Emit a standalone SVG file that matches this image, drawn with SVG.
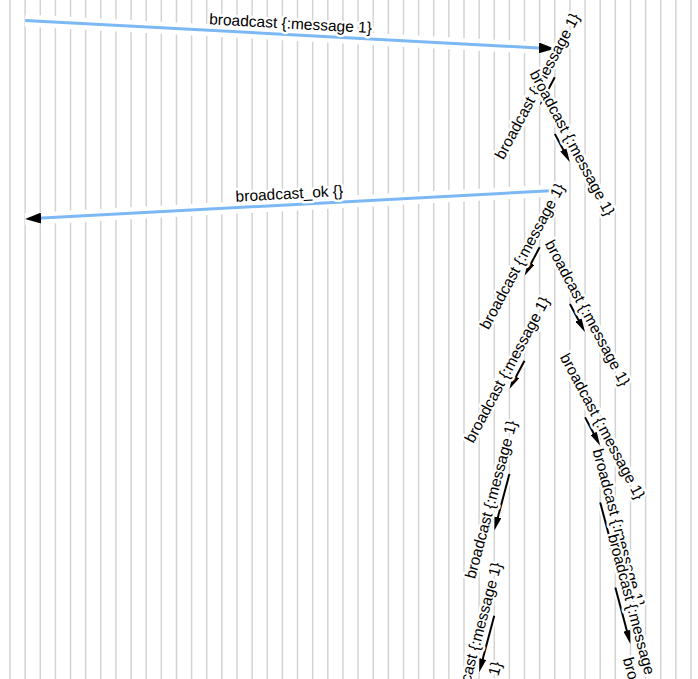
<svg xmlns="http://www.w3.org/2000/svg" width="698" height="679" viewBox="0 0 698 679">
<defs>
<style>
.lane{stroke:#d3d3d3;stroke-width:1.5}
.hb{stroke:#fff;stroke-width:12}
.hs{stroke:#fff;stroke-width:6}
.req{stroke:#7cb9f4;stroke-width:3;marker-end:url(#hd)}
.msg{stroke:#000;stroke-width:2;marker-end:url(#hsm)}
.lbl{font-family:"Liberation Sans",Arial,sans-serif;font-size:15.5px;fill:#000;stroke:#fff;stroke-width:5;stroke-linejoin:round;paint-order:stroke;text-anchor:middle}
</style>
<marker id="hd" viewBox="0 0 16 11" refX="8" refY="5.5" markerWidth="16" markerHeight="11" orient="auto" markerUnits="userSpaceOnUse"><path d="M0,0 L16,5.5 L0,11 z" fill="#000"/></marker>
<marker id="hsm" viewBox="0 0 14 7" refX="7" refY="3.5" markerWidth="14" markerHeight="7" orient="auto" markerUnits="userSpaceOnUse"><path d="M0,0 L14,3.5 L0,7 z" fill="#000"/></marker>
</defs>
<rect width="698" height="679" fill="#fff"/>
<g id="lanes">
<g id="p0"><line class="lane" x1="10" y1="0" x2="10" y2="679"/></g>
<g id="p1"><line class="lane" x1="25.13" y1="0" x2="25.13" y2="679"/></g>
<g id="p2"><line class="lane" x1="40.27" y1="0" x2="40.27" y2="679"/></g>
<g id="p3"><line class="lane" x1="55.4" y1="0" x2="55.4" y2="679"/></g>
<g id="p4"><line class="lane" x1="70.53" y1="0" x2="70.53" y2="679"/></g>
<g id="p5"><line class="lane" x1="85.67" y1="0" x2="85.67" y2="679"/></g>
<g id="p6"><line class="lane" x1="100.8" y1="0" x2="100.8" y2="679"/></g>
<g id="p7"><line class="lane" x1="115.93" y1="0" x2="115.93" y2="679"/></g>
<g id="p8"><line class="lane" x1="131.07" y1="0" x2="131.07" y2="679"/></g>
<g id="p9"><line class="lane" x1="146.2" y1="0" x2="146.2" y2="679"/></g>
<g id="p10"><line class="lane" x1="161.33" y1="0" x2="161.33" y2="679"/></g>
<g id="p11"><line class="lane" x1="176.47" y1="0" x2="176.47" y2="679"/></g>
<g id="p12"><line class="lane" x1="191.6" y1="0" x2="191.6" y2="679"/></g>
<g id="p13"><line class="lane" x1="206.73" y1="0" x2="206.73" y2="679"/></g>
<g id="p14"><line class="lane" x1="221.87" y1="0" x2="221.87" y2="679"/></g>
<g id="p15"><line class="lane" x1="237" y1="0" x2="237" y2="679"/></g>
<g id="p16"><line class="lane" x1="252.13" y1="0" x2="252.13" y2="679"/></g>
<g id="p17"><line class="lane" x1="267.27" y1="0" x2="267.27" y2="679"/></g>
<g id="p18"><line class="lane" x1="282.4" y1="0" x2="282.4" y2="679"/></g>
<g id="p19"><line class="lane" x1="297.53" y1="0" x2="297.53" y2="679"/></g>
<g id="p20"><line class="lane" x1="312.67" y1="0" x2="312.67" y2="679"/></g>
<g id="p21"><line class="lane" x1="327.8" y1="0" x2="327.8" y2="679"/></g>
<g id="p22"><line class="lane" x1="342.93" y1="0" x2="342.93" y2="679"/></g>
<g id="p23"><line class="lane" x1="358.07" y1="0" x2="358.07" y2="679"/></g>
<g id="p24"><line class="lane" x1="373.2" y1="0" x2="373.2" y2="679"/></g>
<g id="p25"><line class="lane" x1="388.33" y1="0" x2="388.33" y2="679"/></g>
<g id="p26"><line class="lane" x1="403.47" y1="0" x2="403.47" y2="679"/></g>
<g id="p27"><line class="lane" x1="418.6" y1="0" x2="418.6" y2="679"/></g>
<g id="p28"><line class="lane" x1="433.73" y1="0" x2="433.73" y2="679"/></g>
<g id="p29"><line class="lane" x1="448.87" y1="0" x2="448.87" y2="679"/></g>
<g id="p30"><line class="lane" x1="464" y1="0" x2="464" y2="679"/></g>
<g id="p31"><line class="lane" x1="479.13" y1="0" x2="479.13" y2="679"/></g>
<g id="p32"><line class="lane" x1="494.27" y1="0" x2="494.27" y2="679"/></g>
<g id="p33"><line class="lane" x1="509.4" y1="0" x2="509.4" y2="679"/></g>
<g id="p34"><line class="lane" x1="524.53" y1="0" x2="524.53" y2="679"/></g>
<g id="p35"><line class="lane" x1="539.67" y1="0" x2="539.67" y2="679"/></g>
<g id="p36"><line class="lane" x1="554.8" y1="0" x2="554.8" y2="679"/></g>
<g id="p37"><line class="lane" x1="569.93" y1="0" x2="569.93" y2="679"/></g>
<g id="p38"><line class="lane" x1="585.07" y1="0" x2="585.07" y2="679"/></g>
<g id="p39"><line class="lane" x1="600.2" y1="0" x2="600.2" y2="679"/></g>
<g id="p40"><line class="lane" x1="615.33" y1="0" x2="615.33" y2="679"/></g>
<g id="p41"><line class="lane" x1="630.47" y1="0" x2="630.47" y2="679"/></g>
<g id="p42"><line class="lane" x1="645.6" y1="0" x2="645.6" y2="679"/></g>
<g id="p43"><line class="lane" x1="660.73" y1="0" x2="660.73" y2="679"/></g>
<g id="p44"><line class="lane" x1="675.87" y1="0" x2="675.87" y2="679"/></g>
<g id="p45"><line class="lane" x1="691" y1="0" x2="691" y2="679"/></g>
</g>
<g id="connectors">
<g id="mA"><line class="hb" x1="25.13" y1="20.5" x2="554.8" y2="48.85"/><line class="req" x1="25.13" y1="20.5" x2="546.81" y2="48.42"/><text class="lbl" transform="translate(289.97,34.68) rotate(3.064)" y="-6">broadcast {:message 1}</text></g>
<g id="mB"><line class="hs" x1="554.8" y1="77.2" x2="539.67" y2="105.55"/><line class="msg" x1="554.8" y1="77.2" x2="542.97" y2="99.37"/><text class="lbl" transform="translate(547.23,91.38) rotate(-61.91)" y="-6">broadcast {:message 1}</text></g>
<g id="mC"><line class="hs" x1="554.8" y1="133.9" x2="569.93" y2="162.25"/><line class="msg" x1="554.8" y1="133.9" x2="566.63" y2="156.07"/><text class="lbl" transform="translate(562.37,148.08) rotate(61.91)" y="-6">broadcast {:message 1}</text></g>
<g id="mD"><line class="hb" x1="554.8" y1="190.6" x2="25.13" y2="218.95"/><line class="req" x1="554.8" y1="190.6" x2="33.12" y2="218.52"/><text class="lbl" transform="translate(289.97,204.78) rotate(-3.064)" y="-6">broadcast_ok {}</text></g>
<g id="mE"><line class="hs" x1="539.67" y1="247.3" x2="524.53" y2="275.65"/><line class="msg" x1="539.67" y1="247.3" x2="527.83" y2="269.47"/><text class="lbl" transform="translate(532.1,261.48) rotate(-61.91)" y="-6">broadcast {:message 1}</text></g>
<g id="mF"><line class="hs" x1="569.93" y1="304" x2="585.07" y2="332.35"/><line class="msg" x1="569.93" y1="304" x2="581.77" y2="326.17"/><text class="lbl" transform="translate(577.5,318.18) rotate(61.91)" y="-6">broadcast {:message 1}</text></g>
<g id="mG"><line class="hs" x1="524.53" y1="360.7" x2="509.4" y2="389.05"/><line class="msg" x1="524.53" y1="360.7" x2="512.7" y2="382.87"/><text class="lbl" transform="translate(516.97,374.88) rotate(-61.91)" y="-6">broadcast {:message 1}</text></g>
<g id="mH"><line class="hs" x1="585.07" y1="417.4" x2="600.2" y2="445.75"/><line class="msg" x1="585.07" y1="417.4" x2="596.9" y2="439.57"/><text class="lbl" transform="translate(592.63,431.58) rotate(61.91)" y="-6">broadcast {:message 1}</text></g>
<g id="mI"><line class="hs" x1="509.4" y1="474.1" x2="494.27" y2="530.8"/><line class="msg" x1="509.4" y1="474.1" x2="496.07" y2="524.04"/><text class="lbl" transform="translate(501.83,502.45) rotate(-75.06)" y="-6">broadcast {:message 1}</text></g>
<g id="mK"><line class="hs" x1="600.2" y1="502.45" x2="615.33" y2="559.15"/><line class="msg" x1="600.2" y1="502.45" x2="613.53" y2="552.39"/><text class="lbl" transform="translate(607.77,530.8) rotate(75.06)" y="-6">broadcast {:message 1}</text></g>
<g id="mL"><line class="hs" x1="615.33" y1="587.5" x2="630.47" y2="644.2"/><line class="msg" x1="615.33" y1="587.5" x2="628.67" y2="637.44"/><text class="lbl" transform="translate(622.9,615.85) rotate(75.06)" y="-6">broadcast {:message 1}</text></g>
<g id="mJ"><line class="hs" x1="494.27" y1="615.85" x2="479.13" y2="672.55"/><line class="msg" x1="494.27" y1="615.85" x2="480.93" y2="665.79"/><text class="lbl" transform="translate(486.7,644.2) rotate(-75.06)" y="-6">broadcast {:message 1}</text></g>
<g id="mM"><text class="lbl" transform="translate(638.03,739.25) rotate(75.06)" y="-6">broadcast {:message 1}</text></g>
<g id="mN"><text class="lbl" transform="translate(486.7,743.6) rotate(-75.06)" y="-6">broadcast {:message 1}</text></g>
</g>
</svg>
